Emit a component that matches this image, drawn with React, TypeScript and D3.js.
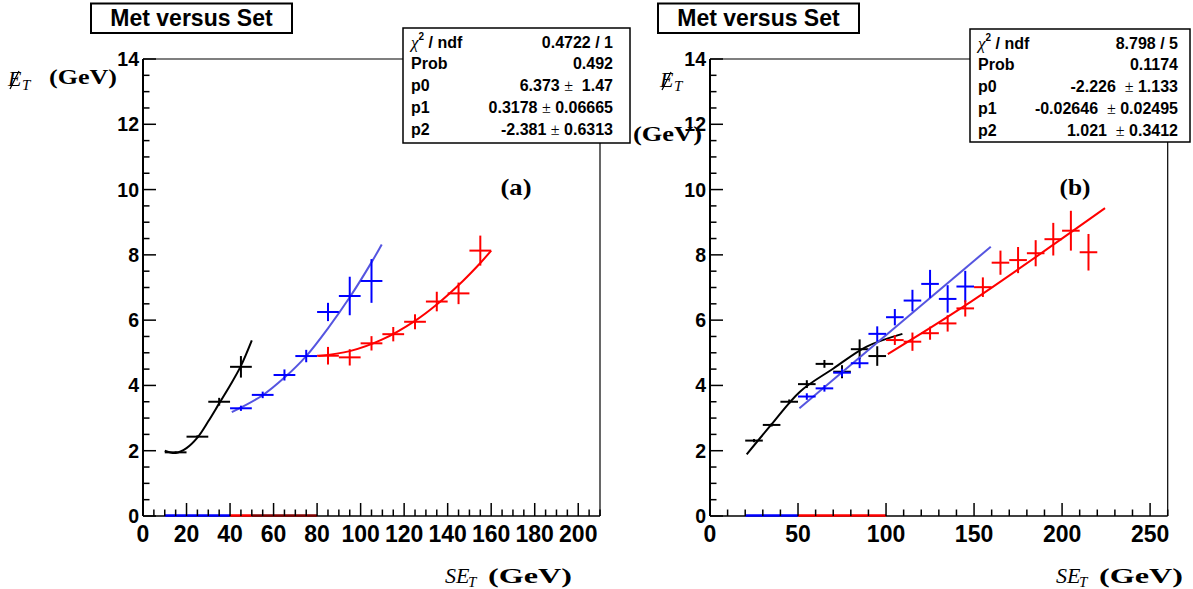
import React from "react";
import * as d3 from "d3";

// ---------- data ----------
const yTicks = [0, 2, 4, 6, 8, 10, 12, 14];
const leftXTicks = [0, 20, 40, 60, 80, 100, 120, 140, 160, 180, 200];
const rightXTicks = [0, 50, 100, 150, 200, 250];

// left panel (a)
const aBlackX = [15, 25, 35, 45];
const aBlackY = [1.95, 2.43, 3.5, 4.57];
const aBlackErr = [0.03, 0.04, 0.12, 0.33];
const aBlueX = [45, 55, 65, 75, 85, 95, 105];
const aBlueY = [3.3, 3.71, 4.32, 4.9, 6.25, 6.74, 7.2];
const aBlueErr = [0.08, 0.1, 0.17, 0.19, 0.28, 0.59, 0.67];
const aRedX = [85, 95, 105, 115, 125, 135, 145, 155];
const aRedY = [4.91, 4.86, 5.29, 5.57, 5.95, 6.57, 6.82, 8.13];
const aRedErr = [0.27, 0.25, 0.22, 0.22, 0.23, 0.3, 0.33, 0.46];
const aBlackFit: [number, number][] = [[10, 2.0], [15, 1.93], [20, 2.08], [25, 2.4], [30, 2.9], [35, 3.45], [40, 4.0], [45, 4.6], [50, 5.38]];
const aBlueFit: [number, number][] = [[40.8, 3.18], [55, 3.7], [65, 4.24], [75, 4.9], [85, 5.75], [95, 6.7], [105, 7.77], [109.7, 8.32]];
const aRedFit: [number, number][] = [[80.6, 4.9], [95, 5.05], [110, 5.41], [125, 5.98], [135, 6.48], [147, 7.2], [155, 7.75], [160, 8.13]];

// right panel (b)
const bBlackX = [25, 35, 45, 55, 65, 75, 85, 95];
const bBlackY = [2.31, 2.79, 3.5, 4.04, 4.66, 4.42, 5.11, 4.9];
const bBlackErr = [0.05, 0.05, 0.07, 0.12, 0.12, 0.2, 0.3, 0.3];
const bBlueX = [55, 65, 75, 85, 95, 105, 115, 125, 135, 145];
const bBlueY = [3.66, 3.91, 4.39, 4.68, 5.58, 6.09, 6.6, 7.11, 6.65, 7.03];
const bBlueErr = [0.1, 0.1, 0.12, 0.15, 0.23, 0.25, 0.33, 0.43, 0.42, 0.48];
const bRedX = [105, 115, 125, 135, 145, 155, 165, 175, 185, 195, 205, 215];
const bRedY = [5.39, 5.34, 5.6, 5.9, 6.36, 7.01, 7.76, 7.84, 8.05, 8.48, 8.74, 8.08];
const bRedErr = [0.15, 0.28, 0.2, 0.25, 0.25, 0.3, 0.37, 0.4, 0.4, 0.5, 0.61, 0.56];
const bBlackFit: [number, number][] = [[20.85, 1.89], [34.7, 2.79], [51.1, 3.81], [70.1, 4.52], [89, 5.19], [109.3, 5.58]];
const bBlueFit: [number, number][] = [[50.8, 3.3], [159.5, 8.25]];
const bRedFit: [number, number][] = [[101, 4.96], [145, 6.45], [224.4, 9.43]];

const aStatsValues = ["0.4722 / 1", "0.492", "6.373 \u00b1  1.47", "0.3178 \u00b1 0.06665", "-2.381 \u00b1 0.6313"];
const bStatsValues = ["8.798 / 5", "0.1174", "-2.226  \u00b1 1.133", "-0.02646  \u00b1 0.02495", "1.021  \u00b1 0.3412"];
const statsNames = ["chi2", "Prob", "p0", "p1", "p2"];

const aZeroSegs: [number, number, string][] = [[10, 40, "#0000ff"], [40, 50, "#ff0000"], [50, 80, "#800000"]];
const bZeroSegs: [number, number, string][] = [[20, 50, "#0000ff"], [50, 100, "#ff0000"]];

const SANS = "'Liberation Sans', Arial, Helvetica, sans-serif";
const SERIF = "'Liberation Serif', 'DejaVu Serif', serif";
const BLUE_FIT = "#5555e0";

type Series = { x: number[]; y: number[]; err: number[]; color: string; fit: [number, number][]; fitColor: string };

function Crosses({ s, xs, ys }: { s: Series; xs: any; ys: any }) {
  const line = d3
    .line<[number, number]>()
    .x((d) => xs(d[0]))
    .y((d) => ys(d[1]))
    .curve(d3.curveCatmullRom);
  return (
    <g>
      <path d={line(s.fit) || ""} fill="none" stroke={s.fitColor} strokeWidth={2} />
      {s.x.map((xv, i) => (
        <g key={i} stroke={s.color} strokeWidth={2}>
          <line x1={xs(xv - 5)} x2={xs(xv + 5)} y1={ys(s.y[i])} y2={ys(s.y[i])} />
          <line x1={xs(xv)} x2={xs(xv)} y1={ys(s.y[i] - s.err[i])} y2={ys(s.y[i] + s.err[i])} />
        </g>
      ))}
    </g>
  );
}

function StatsBox({ x0, x1, y0, y1, values, padR }: { x0: number; x1: number; y0: number; y1: number; values: string[]; padR: number }) {
  const rows = d3.scaleLinear().domain([0, 4]).range([y0 + 14, y0 + 101]);
  return (
    <g>
      <rect x={x0} y={y0} width={x1 - x0} height={y1 - y0} fill="white" stroke="black" strokeWidth={1.5} />
      {statsNames.map((n, i) => {
        const yy = rows(i) + 5.5;
        const v = values[i];
        const parts = v.split("\u00b1");
        return (
          <g key={n}>
            {n === "chi2" ? (
              <text x={x0 + 8} y={yy} fontFamily={SANS} fontWeight="bold" fontSize={16}>
                <tspan fontFamily={SERIF} fontStyle="italic" fontWeight="normal" fontSize={17}>χ</tspan>
                <tspan fontSize={10} dy={-8}>2</tspan>
                <tspan dy={8}> / ndf</tspan>
              </text>
            ) : (
              <text x={x0 + 8} y={yy} fontFamily={SANS} fontWeight="bold" fontSize={16}>
                {n}
              </text>
            )}
            <text x={x1 - padR} y={yy} fontFamily={SANS} fontWeight="bold" fontSize={16} textAnchor="end" style={{ whiteSpace: "pre" }}>
              {parts.length > 1 ? (
                <>
                  <tspan>{parts[0]}</tspan>
                  <tspan fontFamily={SERIF} fontWeight="normal">±</tspan>
                  <tspan>{parts[1]}</tspan>
                </>
              ) : (
                v
              )}
            </text>
          </g>
        );
      })}
    </g>
  );
}

function Panel(props: {
  xDomain: [number, number];
  xRange: [number, number];
  xTicks: number[];
  xMinorStep: number;
  series: Series[];
  zeroSegs: [number, number, string][];
  tag: string;
  tagX: number;
}) {
  const { xDomain, xRange, xTicks, xMinorStep, series, zeroSegs, tag, tagX } = props;
  const xs = d3.scaleLinear().domain(xDomain).range(xRange);
  const ys = d3.scaleLinear().domain([0, 14]).range([516, 59]);
  const xMinor = d3.range(xDomain[0], xDomain[1] + 0.001, xMinorStep);
  const yMinor = d3.range(0, 14.001, 0.5);
  const [L, R] = xRange;
  const T = ys(14);
  const B = ys(0);
  return (
    <g>
      {/* frame */}
      <line x1={L} x2={R} y1={T} y2={T} stroke="black" strokeWidth={1.2} />
      <line x1={R} x2={R} y1={T} y2={B} stroke="black" strokeWidth={1.2} />
      {/* y axis */}
      <line x1={L} x2={L} y1={T} y2={B} stroke="black" strokeWidth={2} />
      {yMinor.map((v) => (
        <line key={"ym" + v} x1={L} x2={L + (v % 2 === 0 ? 13 : 6.5)} y1={ys(v)} y2={ys(v)} stroke="black" strokeWidth={1.5} />
      ))}
      {yTicks.map((v) => (
        <text key={"yl" + v} x={L - 4} y={ys(v)} dy="0.36em" textAnchor="end" fontFamily={SANS} fontWeight="bold" fontSize={19.5}>
          {v}
        </text>
      ))}
      {/* x axis */}
      <line x1={L} x2={R} y1={B} y2={B} stroke="black" strokeWidth={1.5} />
      {/* zero line segments */}
      {zeroSegs.map(([a, b, c], i) => (
        <line key={i} x1={xs(a)} x2={xs(b)} y1={B - 0.5} y2={B - 0.5} stroke={c} strokeWidth={2.5} />
      ))}
      {xMinor.map((v) => (
        <line key={"xm" + v} x1={xs(v)} x2={xs(v)} y1={B} y2={B - (xTicks.includes(v) ? 13 : 6.5)} stroke="black" strokeWidth={1.5} />
      ))}
      {xTicks.map((v) => (
        <text key={"xl" + v} x={xs(v)} y={542} textAnchor="middle" fontFamily={SANS} fontWeight="bold" fontSize={23}>
          {v}
        </text>
      ))}
      {series.map((s, i) => (
        <Crosses key={i} s={s} xs={xs} ys={ys} />
      ))}
      <text x={tagX} y={195} textAnchor="middle" fontFamily={SERIF} fontWeight="bold" fontSize={23} textLength={31} lengthAdjust="spacingAndGlyphs">
        {tag}
      </text>
    </g>
  );
}

function TitleBox({ x }: { x: number }) {
  return (
    <g>
      <rect x={x} y={3.5} width={201} height={29.5} fill="white" stroke="black" strokeWidth={2} />
      <text x={x + 100.5} y={26} textAnchor="middle" fontFamily={SANS} fontWeight="bold" fontSize={23}>
        Met versus Set
      </text>
    </g>
  );
}

function MetLabel({ x, y }: { x: number; y: number }) {
  return (
    <g>
      <text x={x} y={y} fontFamily={SERIF} fontStyle="italic" fontSize={22}>E</text>
      <line x1={x + 2} y1={y + 3} x2={x + 11} y2={y - 15} stroke="black" strokeWidth={1.2} />
      <text x={x + 14} y={y + 4} fontFamily={SERIF} fontStyle="italic" fontSize={15}>T</text>
    </g>
  );
}

function SetLabel({ x, y }: { x: number; y: number }) {
  return (
    <g>
      <text x={x} y={y} fontFamily={SERIF} fontStyle="italic" fontSize={22}>SE</text>
      <text x={x + 23} y={y + 4} fontFamily={SERIF} fontStyle="italic" fontSize={15}>T</text>
      <text x={x + 43} y={y} fontFamily={SERIF} fontWeight="bold" fontSize={22} textLength={84} lengthAdjust="spacingAndGlyphs">
        (GeV)
      </text>
    </g>
  );
}

export default function App() {
  const aSeries: Series[] = [
    { x: aBlackX, y: aBlackY, err: aBlackErr, color: "#000000", fit: aBlackFit, fitColor: "#000000" },
    { x: aBlueX, y: aBlueY, err: aBlueErr, color: "#0000ff", fit: aBlueFit, fitColor: BLUE_FIT },
    { x: aRedX, y: aRedY, err: aRedErr, color: "#ff0000", fit: aRedFit, fitColor: "#ff0000" },
  ];
  const bSeries: Series[] = [
    { x: bBlackX, y: bBlackY, err: bBlackErr, color: "#000000", fit: bBlackFit, fitColor: "#000000" },
    { x: bBlueX, y: bBlueY, err: bBlueErr, color: "#0000ff", fit: bBlueFit, fitColor: BLUE_FIT },
    { x: bRedX, y: bRedY, err: bRedErr, color: "#ff0000", fit: bRedFit, fitColor: "#ff0000" },
  ];
  return (
    <svg width={1193} height={589} style={{ position: "absolute", left: 0, top: 0, background: "white" }}>
      <rect x={0} y={0} width={1193} height={589} fill="white" />
      <Panel xDomain={[0, 210]} xRange={[143, 600]} xTicks={leftXTicks} xMinorStep={5} series={aSeries} zeroSegs={aZeroSegs} tag="(a)" tagX={516} />
      <Panel xDomain={[0, 260]} xRange={[710, 1167.7]} xTicks={rightXTicks} xMinorStep={10} series={bSeries} zeroSegs={bZeroSegs} tag="(b)" tagX={1075} />
      {/* y labels */}
      <MetLabel x={8} y={86} />
      <text x={49} y={84} fontFamily={SERIF} fontWeight="bold" fontSize={22} textLength={68} lengthAdjust="spacingAndGlyphs">(GeV)</text>
      <MetLabel x={660} y={87} />
      <TitleBox x={91} />
      <TitleBox x={658} />
      <StatsBox x0={403} x1={630} y0={28} y1={143} values={aStatsValues} padR={17} />
      <StatsBox x0={970} x1={1190} y0={29} y1={142} values={bStatsValues} padR={12} />
      <text x={633} y={141} fontFamily={SERIF} fontWeight="bold" fontSize={22} textLength={69} lengthAdjust="spacingAndGlyphs">(GeV)</text>
      {/* x labels */}
      <SetLabel x={445} y={583} />
      <SetLabel x={1056} y={583} />
    </svg>
  );
}
